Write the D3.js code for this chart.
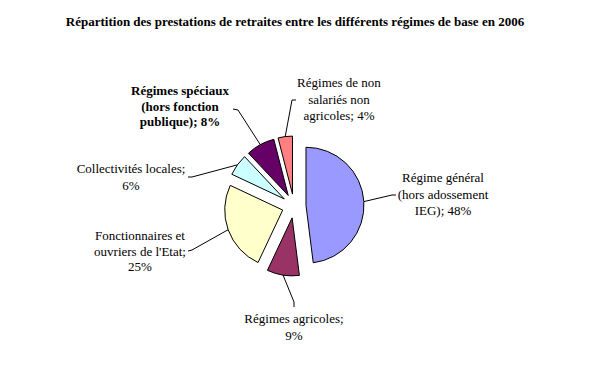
<!DOCTYPE html>
<html>
<head>
<meta charset="utf-8">
<script src="https://cdn.jsdelivr.net/npm/d3@7"></script>
<style>
  body { margin: 0; background: #fff; }
</style>
</head>
<body>
<svg width="590" height="375"></svg>
<script>
const regimes = [
    "Régime général (hors adossement IEG)",
    "Régimes agricoles",
    "Fonctionnaires et ouvriers de l'Etat",
    "Collectivités locales",
    "Régimes spéciaux (hors fonction publique)",
    "Régimes de non salariés non agricoles"
];
const parts = [48, 9, 25, 6, 8, 4];
const labelLines = [
    ["Régime général", "(hors adossement", "IEG); 48%"],
    ["Régimes agricoles;", "9%"],
    ["Fonctionnaires et", "ouvriers de l'Etat;", "25%"],
    ["Collectivités locales;", "6%"],
    ["Régimes spéciaux", "(hors fonction", "publique); 8%"],
    ["Régimes de non", "salariés non", "agricoles; 4%"]
];
const colors = ["#9999ff", "#993366", "#ffffcc", "#ccffff", "#660066", "#ff8080"];

// layout: label block position (centre x, first baseline) and leader bends
const layout = [
    { x: 443, y: 182, lh: 16.5, bold: false, leader: [[392, 195], [396, 195]] },
    { x: 294, y: 323, lh: 16.5, bold: false, leader: [[294, 302], [294, 307]] },
    { x: 140, y: 240, lh: 15.5, bold: false, leader: [[192, 250], [188, 251]] },
    { x: 131, y: 173, lh: 16.5, bold: false, leader: [[192, 177], [188, 177]] },
    { x: 180, y: 95, lh: 15.5, bold: true, leader: [[238, 110], [233, 109]] },
    { x: 339, y: 87, lh: 16.5, bold: false, leader: [[292, 100], [296, 100]] }
];

const width = 590, height = 375;
const cx = 294, cy = 206, r = 58, explode = 12;

const svg = d3.select("svg")
    .attr("font-family", "'Liberation Serif', 'Times New Roman', serif");

svg.append("text")
    .attr("x", width / 2)
    .attr("y", 26)
    .attr("text-anchor", "middle")
    .attr("font-size", 13)
    .attr("font-weight", "bold")
    .text("Répartition des prestations de retraites entre les différents régimes de base en 2006");

const pie = d3.pie().sort(null).value(d => d)(parts);
const arc = d3.arc().innerRadius(0).outerRadius(r);

const mid = d => (d.startAngle + d.endAngle) / 2;

svg.append("g")
    .attr("transform", `translate(${cx},${cy})`)
    .selectAll("path")
    .data(pie)
    .enter().append("path")
    .attr("transform", d => `translate(${explode * Math.sin(mid(d))},${-explode * Math.cos(mid(d))})`)
    .attr("d", arc)
    .attr("fill", (d, i) => colors[i])
    .attr("stroke", "#000")
    .attr("stroke-width", 1);

// leader lines
svg.append("g")
    .selectAll("path")
    .data(pie)
    .enter().append("path")
    .attr("fill", "none")
    .attr("stroke", "#000")
    .attr("stroke-width", 1)
    .attr("d", (d, i) => {
        const a = mid(d);
        const start = [cx + (r + explode) * Math.sin(a), cy - (r + explode) * Math.cos(a)];
        return d3.line()([start, ...layout[i].leader]);
    });

// labels
const labels = svg.append("g")
    .selectAll("text")
    .data(labelLines)
    .enter().append("text")
    .attr("text-anchor", "middle")
    .attr("font-size", 13)
    .attr("font-weight", (d, i) => layout[i].bold ? "bold" : "normal");

labels.each(function (lines, i) {
    d3.select(this).selectAll("tspan")
        .data(lines)
        .enter().append("tspan")
        .attr("x", layout[i].x)
        .attr("y", (l, j) => layout[i].y + j * layout[i].lh)
        .text(l => l);
});
</script>
</body>
</html>
